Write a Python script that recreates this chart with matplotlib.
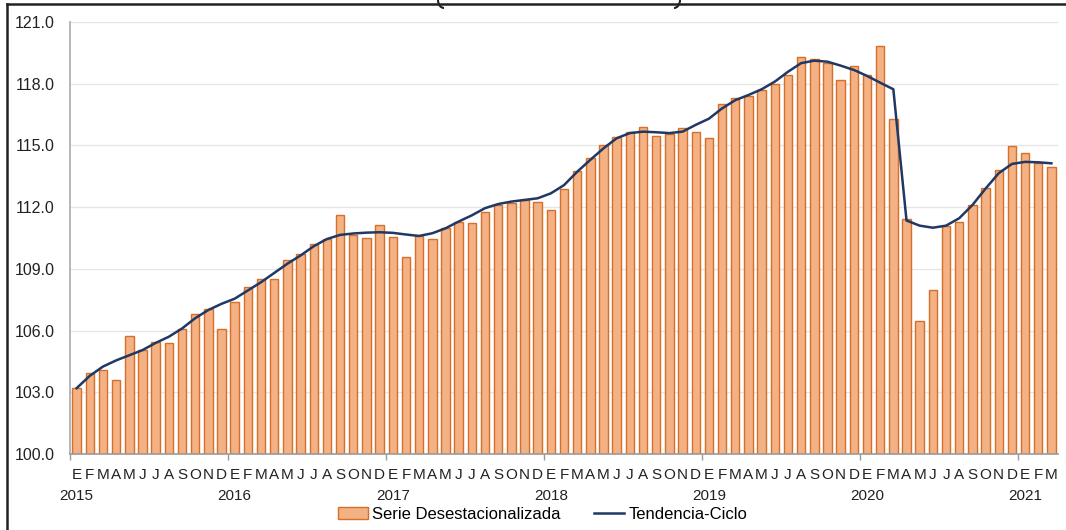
import matplotlib
matplotlib.use("Agg")
import matplotlib.pyplot as plt
from matplotlib.lines import Line2D
from matplotlib.patches import Arc
import numpy as np

plt.rcParams['font.family'] = ['Liberation Sans', 'DejaVu Sans']

# meses ene-2015 .. mar-2021
month_letters = ['E', 'F', 'M', 'A', 'M', 'J', 'J', 'A', 'S', 'O', 'N', 'D']
years = ['2015', '2016', '2017', '2018', '2019', '2020', '2021']

# serie desestacionalizada
serie = [
    103.2, 103.95, 104.1, 103.6, 105.75, 105.05, 105.45, 105.4, 106.1, 106.8, 107.05, 106.1,
    107.4, 108.1, 108.5, 108.5, 109.45, 109.7, 110.2, 110.45, 111.6, 110.65, 110.5, 111.15,
    110.55, 109.6, 110.6, 110.45, 111.0, 111.3, 111.25, 111.75, 112.1, 112.2, 112.35, 112.25,
    111.85, 112.9, 113.75, 114.4, 115.0, 115.4, 115.65, 115.9, 115.45, 115.55, 115.85, 115.65,
    115.35, 117.0, 117.3, 117.4, 117.7, 118.0, 118.4, 119.3, 119.2, 119.0, 118.2, 118.85,
    118.4, 119.85, 116.3, 111.4, 106.45, 107.95, 111.1, 111.3, 112.1, 112.95, 113.8, 114.95,
    114.65, 114.15, 113.95,
]

# tendencia-ciclo
tendencia = [
    103.2, 103.8, 104.25, 104.55, 104.8, 105.05, 105.4, 105.7, 106.1, 106.6, 107.0, 107.3,
    107.55, 107.95, 108.35, 108.8, 109.25, 109.65, 110.1, 110.45, 110.65, 110.72, 110.76, 110.78,
    110.75, 110.67, 110.6, 110.73, 110.97, 111.3, 111.6, 111.95, 112.15, 112.27, 112.35, 112.43,
    112.67, 113.07, 113.72, 114.3, 114.86, 115.35, 115.6, 115.67, 115.64, 115.6, 115.67, 116.0,
    116.3, 116.8, 117.2, 117.45, 117.73, 118.1, 118.58, 119.0, 119.12, 119.07, 118.88, 118.67,
    118.38, 118.05, 117.73, 111.35, 111.1, 111.0, 111.1, 111.46, 112.1, 112.9, 113.65, 114.1,
    114.2, 114.18, 114.13,
]

n = len(serie)
x = np.arange(n)
labels = [month_letters[i % 12] for i in range(n)]

fig = plt.figure(figsize=(10.66, 5.30), dpi=100)
ax = fig.add_axes([0.0657, 0.1434, 0.9268, 0.8151])

bars = ax.bar(x, serie, width=0.64, bottom=0, color='#F4B183', edgecolor='#D5702B',
              linewidth=1.0, label='Serie Desestacionalizada', zorder=2)
line, = ax.plot(x, tendencia, color='#203864', linewidth=1.8, label='Tendencia-Ciclo', zorder=3)

ax.set_ylim(100, 121)
ax.set_xlim(-0.5, n - 0.5)
ax.set_yticks(np.arange(100, 121.1, 3))
ax.set_yticklabels(['%.1f' % v for v in np.arange(100, 121.1, 3)], fontsize=11.5, color='#222222')
ax.yaxis.grid(True, color='#e6e6e6', linewidth=1.0, zorder=0)
ax.set_axisbelow(True)

ax.set_xticks(x)
ax.set_xticklabels(labels, fontsize=11, color='#222222')
ax.tick_params(axis='x', which='major', length=0, pad=10)
ax.tick_params(axis='y', length=0, pad=11)
ax.set_xticks(np.arange(-0.5, n, 12), minor=True)
ax.tick_params(axis='x', which='minor', length=4, color='#999999', width=1.0)

for k, yr in enumerate(years):
    ax.text(12 * k, -0.097, yr, transform=ax.get_xaxis_transform(), ha='center', va='center',
            fontsize=11, color='#222222')

for s in ['top', 'right']:
    ax.spines[s].set_visible(False)
ax.spines['left'].set_color('#aaaaaa')
ax.spines['bottom'].set_color('#999999')
ax.spines['left'].set_linewidth(1.2)
ax.spines['bottom'].set_linewidth(1.2)

ax.legend([bars, line], ['Serie Desestacionalizada', 'Tendencia-Ciclo'],
          loc='center', bbox_to_anchor=(0.509, 0.03), bbox_transform=fig.transFigure,
          ncol=2, frameon=False, fontsize=12, handlelength=1.8, handleheight=0.7,
          columnspacing=2.0, handletextpad=0.25)

# marco del grafico
fig.add_artist(Line2D([7 / 1066, 1.0], [1 - 4 / 530, 1 - 4 / 530], color='#222222', linewidth=1.8))
fig.add_artist(Line2D([7 / 1066, 7 / 1066], [0.0, 1 - 4 / 530], color='#222222', linewidth=1.8))
# restos de la caja del titulo (cortada arriba)
fig.add_artist(Arc((444 / 1066, 1.0), 12 / 1066, 16 / 530, theta1=180, theta2=270,
                   transform=fig.transFigure, color='#222222', linewidth=1.5))
fig.add_artist(Arc((674 / 1066, 1.0), 12 / 1066, 16 / 530, theta1=270, theta2=360,
                   transform=fig.transFigure, color='#222222', linewidth=1.5))

fig.savefig('out.png', dpi=100)
